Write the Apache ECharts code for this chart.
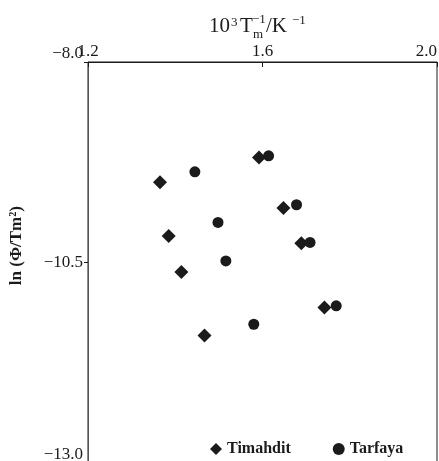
<!DOCTYPE html>
<html>
<head>
<meta charset="utf-8">
<script src="https://cdn.jsdelivr.net/npm/echarts@6/dist/echarts.min.js"></script>
<style>html,body{margin:0;padding:0;background:#fff}#c{width:439px;height:461px}</style>
</head>
<body>
<div id="c"></div>
<script>
// Data
const seriesNames = ['Timahdit', 'Tarfaya'];
const timahditX = [1.365, 1.592, 1.648, 1.385, 1.689, 1.414, 1.742, 1.467];
const timahditY = [-9.50, -9.19, -9.82, -10.17, -10.26, -10.62, -11.06, -11.41];
const tarfayaX = [1.445, 1.614, 1.678, 1.498, 1.709, 1.516, 1.769, 1.580];
const tarfayaY = [-9.37, -9.17, -9.78, -10.00, -10.25, -10.48, -11.04, -11.27];
const xTicks = [1.2, 1.6, 2.0];
const yTicks = [-8.0, -10.5, -13.0];

const SERIF = '"Liberation Serif", "DejaVu Serif", serif';
const INK = '#1c1a1a';
const fmt = v => (v < 0 ? '\u2212' : '') + Math.abs(v).toFixed(1);
const pairs = (xs, ys) => xs.map((x, i) => [x, ys[i]]);

const chart = echarts.init(document.getElementById('c'), null, {renderer: 'canvas'});
chart.setOption({
  animation: false,
  backgroundColor: '#fff',
  grid: {left: 88, top: 62, width: 349, height: 401, containLabel: false, outerBoundsMode: 'none',
         show: true, borderColor: INK, borderWidth: 1, backgroundColor: 'transparent'},
  xAxis: {
    type: 'value', position: 'top',
    min: xTicks[0], max: xTicks[xTicks.length - 1], interval: xTicks[1] - xTicks[0],
    axisLine: {lineStyle: {color: INK, width: 1}},
    axisTick: {inside: true, length: 5, lineStyle: {color: INK}},
    splitLine: {show: false},
    axisLabel: {formatter: fmt, fontFamily: SERIF, fontSize: 17, color: INK, margin: 2, alignMaxLabel: 'right'}
  },
  yAxis: {
    type: 'value',
    min: yTicks[yTicks.length - 1], max: yTicks[0], interval: yTicks[0] - yTicks[1],
    axisLine: {lineStyle: {color: '#555', width: 1}},
    axisTick: {inside: false, length: 4, lineStyle: {color: INK}},
    splitLine: {show: false},
    axisLabel: {formatter: fmt, fontFamily: SERIF, fontSize: 17, color: INK, margin: 5,
                verticalAlignMinLabel: 'bottom', verticalAlignMaxLabel: 'bottom'}
  },
  legend: {
    left: 205, top: 436,
    itemGap: 42, itemWidth: 12, itemHeight: 12,
    textStyle: {fontFamily: SERIF, fontSize: 16, fontWeight: 'bold', color: INK},
    data: [{name: seriesNames[0], icon: 'diamond'}, {name: seriesNames[1], icon: 'circle'}]
  },
  series: [
    {name: seriesNames[0], type: 'scatter', symbol: 'diamond', symbolSize: 14, itemStyle: {color: INK, opacity: 1}, data: pairs(timahditX, timahditY)},
    {name: seriesNames[1], type: 'scatter', symbol: 'circle', symbolSize: 11, itemStyle: {color: INK, opacity: 1}, data: pairs(tarfayaX, tarfayaY)}
  ],
  graphic: [
    {type: 'text', left: 8, top: 206, rotation: Math.PI / 2, originX: 0, originY: 0,
     style: {text: 'ln (\u03A6/Tm\u00B2)', font: 'bold 17px ' + SERIF, fill: INK, textAlign: 'center', textVerticalAlign: 'middle'}},
    {type: 'text', x: 209, y: 37, style: {text: '10', font: '21px ' + SERIF, fill: INK, textVerticalAlign: 'bottom'}},
    {type: 'text', x: 231, y: 29, style: {text: '3', font: '13px ' + SERIF, fill: INK, textVerticalAlign: 'bottom'}},
    {type: 'text', x: 240, y: 37, style: {text: 'T', font: '21px ' + SERIF, fill: INK, textVerticalAlign: 'bottom'}},
    {type: 'text', x: 252, y: 26, style: {text: '\u22121', font: '13px ' + SERIF, fill: INK, textVerticalAlign: 'bottom'}},
    {type: 'text', x: 253, y: 41, style: {text: 'm', font: '13px ' + SERIF, fill: INK, textVerticalAlign: 'bottom'}},
    {type: 'text', x: 266, y: 37, style: {text: '/K', font: '21px ' + SERIF, fill: INK, textVerticalAlign: 'bottom'}},
    {type: 'text', x: 292, y: 27, style: {text: '\u22121', font: '13px ' + SERIF, fill: INK, textVerticalAlign: 'bottom'}}
  ]
});
</script>
</body>
</html>
